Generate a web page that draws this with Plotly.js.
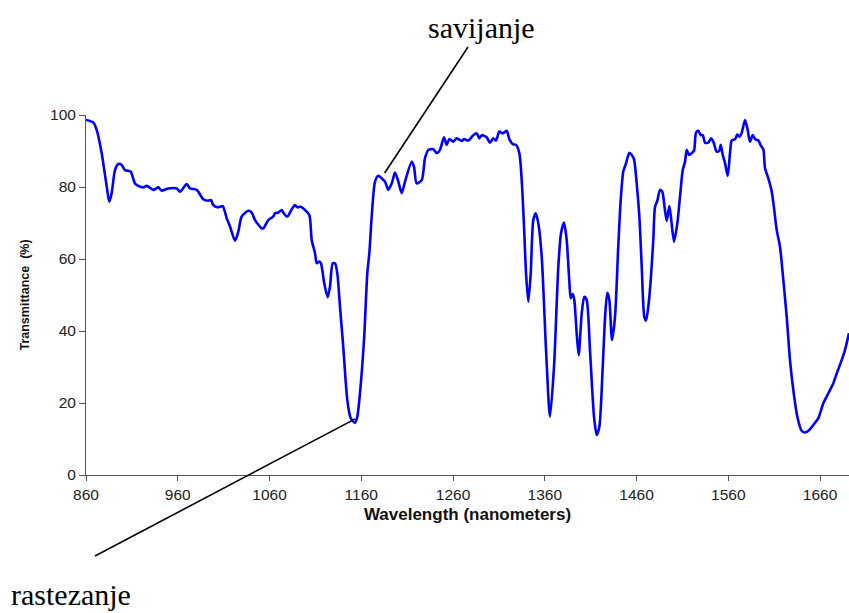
<!DOCTYPE html>
<html>
<head>
<meta charset="utf-8">
<script src="https://cdn.plot.ly/plotly-3.0.1.min.js"></script>
<style>html,body{margin:0;padding:0;background:#fff;}#chart{width:849px;height:613px;}</style>
</head>
<body>
<div id="chart"></div>
<script>
// Wavelength (nm) and transmittance (%)
const wavelength = [
  860, 868.0, 871.7, 877.1, 882.6, 885.4, 888.0, 891.6, 895.2, 898.9, 902.5, 906.1, 908.7, 913.4, 917.0,
  922.5, 926.2, 933.4, 938.8, 942.5, 949.7, 958.9, 962.5, 969.8, 973.4, 980.7, 987.8, 993.3, 996.2, 998.7,
  1003.1, 1006.0, 1009.0, 1013.4, 1017.0, 1022.4, 1026.0, 1029.7, 1036.9, 1040.6, 1044.2, 1051.5, 1053.2,
  1058.7, 1064.1, 1066.0, 1069.6, 1073.3, 1075.0, 1079.4, 1084.2, 1087.8, 1090.3, 1094.0, 1098.7, 1103.4,
  1106.0, 1109.6, 1111.5, 1114.3, 1116.1, 1119.7, 1123.4, 1125.9, 1128.9, 1131.4, 1133.9, 1136.8, 1140.4,
  1144.8, 1148.5, 1153.2, 1155.7, 1158.6, 1163.0, 1166.6, 1168.8, 1171.4, 1175.0, 1178.6, 1182.3, 1185.9,
  1189.5, 1193.2, 1196.8, 1200.4, 1204.1, 1207.7, 1215.0, 1217.5, 1220.4, 1225.9, 1229.5, 1233.1, 1238.5,
  1242.2, 1245.8, 1250.2, 1253.1, 1256.0, 1260.3, 1264.0, 1269.5, 1272.0, 1276.7, 1282.1, 1285.8, 1288.7,
  1291.3, 1296.7, 1300.3, 1303.9, 1306.9, 1310.5, 1314.2, 1318.5, 1321.4, 1325.1, 1328.7, 1332.3, 1334.9,
  1337.4, 1339.6, 1342.1, 1344.7, 1347.5, 1350.1, 1353.0, 1356.7, 1361.4, 1365.7, 1370.1, 1374.8, 1377.7,
  1381.0, 1383.9, 1386.8, 1388.3, 1390.5, 1392.2, 1394.8, 1397.0, 1400.3, 1403.1, 1405.7, 1409.3, 1413.7,
  1416.6, 1419.5, 1423.2, 1426.0, 1428.2, 1430.4, 1433.3, 1436.6, 1440.2, 1442.8, 1445.6, 1448.6, 1452.2,
  1454.8, 1457.3, 1460.2, 1463.1, 1465.7, 1468.5, 1470.4, 1472.9, 1475.5, 1478.3, 1480.2, 1482.7, 1485.6,
  1488.1, 1490.3, 1492.9, 1495.8, 1497.9, 1500.9, 1504.5, 1507.4, 1510.4, 1512.9, 1514.7, 1517.2, 1520.2,
  1522.7, 1524.9, 1527.4, 1530.0, 1532.2, 1534.7, 1538.3, 1541.2, 1543.7, 1547.4, 1550.3, 1551.8, 1554.0,
  1556.5, 1559.4, 1561.9, 1563.8, 1567.4, 1569.9, 1572.1, 1574.7, 1578.3, 1581.2, 1583.7, 1586.7, 1589.2,
  1592.8, 1595.7, 1598.2, 1600.1, 1603.7, 1607.4, 1609.9, 1612.8, 1616.4, 1620.0, 1623.7, 1627.3, 1630.9,
  1635.3, 1640.0, 1643.6, 1648.3, 1652.7, 1658.2, 1663.6, 1669.1, 1674.5, 1678.9, 1683.6, 1687.2, 1691.6
];
const transmittance = [
  98.6, 97.9, 95.8, 89.4, 80.1, 75.9, 78.3, 84.7, 86.4, 86.1, 84.7, 84.5, 84.3, 81.0, 80.3,
  79.9, 80.3, 79.2, 79.9, 79.0, 79.6, 79.6, 78.7, 80.8, 79.6, 79.2, 76.6, 76.2, 76.4, 75.0,
  74.4, 74.5, 74.7, 71.3, 69.0, 65.1, 67.6, 71.8, 73.4, 72.9, 70.8, 68.5, 68.5,
  70.8, 71.8, 72.7, 72.9, 73.6, 72.9, 71.8, 73.8, 75.0, 74.4, 74.5, 73.6, 72.2,
  65.3, 61.6, 58.8, 59.3, 58.8, 53.2, 49.4, 52.3, 58.8, 58.8, 56.0, 46.8, 35.6,
  20.8, 15.8, 14.5, 16.2, 22.7, 37.5, 56.0, 61.6, 71.8, 81.5, 83.1, 82.4, 81.5,
  79.2, 81.0, 84.0, 81.5, 78.3, 81.5, 87.0, 85.6, 81.0, 81.9, 88.0, 90.3, 90.5,
  89.4, 90.3, 93.8, 91.7, 93.3, 92.6, 93.5, 92.8, 93.3, 92.9, 94.4, 94.9, 93.5,
  94.4, 93.8, 92.3, 93.5, 92.9, 95.4, 94.9, 95.6, 93.3, 91.9, 91.7, 89.4, 81.9,
  69.0, 56.0, 48.1, 56.0, 70.8, 72.7, 69.9, 60.6, 34.7, 16.2, 30.1, 57.9, 67.1,
  70.1, 65.3, 53.7, 49.1, 50.3, 48.6, 39.4, 33.3, 44.9, 49.5, 48.6, 34.7, 16.2,
  11.1, 13.4, 30.1, 44.9, 50.6, 48.6, 37.5, 44.0, 64.0, 76.4, 84.3, 86.6, 89.5,
  88.9, 87.7, 81.0, 71.8, 57.9, 44.0, 42.9, 46.8, 54.2, 65.3, 74.5, 76.2, 79.2,
  78.7, 75.0, 70.6, 74.7, 70.8, 64.8, 69.9, 77.3, 84.7, 87.0, 90.3, 88.9, 89.4,
  90.1, 95.1, 95.6, 94.4, 94.4, 92.3, 92.3, 93.5, 92.6, 89.8, 90.1, 91.7, 88.9,
  86.6, 83.1, 89.4, 92.9, 93.3, 94.6, 94.0, 95.1, 98.6, 95.8, 92.6, 94.4, 93.3,
  92.9, 91.4, 90.5, 85.2, 82.4, 78.7, 74.1, 68.1, 63.4, 54.2, 44.0, 31.9, 23.6,
  16.2, 12.3, 11.8, 12.5, 13.9, 15.8, 19.9, 22.7, 25.5, 28.7, 31.9, 34.7, 39.4
];
const xTickStart = 860;
const xTickStep = 100;
const yTickStep = 20;
const xTitle = 'Wavelength (nanometers)';
const yTitle = 'Transmittance  (%)';
const labelBend = 'savijanje';
const labelStretch = 'rastezanje';

const xRange = [860, 1691.6];
const yRange = [0, 100];
// helpers to place annotation lines in paper space
function px(x) { return (x - xRange[0]) / (xRange[1] - xRange[0]); }
function py(y) { return (y - yRange[0]) / (yRange[1] - yRange[0]); }

const trace = {
  x: wavelength,
  y: transmittance,
  type: 'scatter',
  mode: 'lines',
  line: {color: '#0000FF', width: 2.6, shape: 'spline', smoothing: 0.7},
  hoverinfo: 'x+y'
};

const sans = 'Liberation Sans, Arial, sans-serif';
const serif = 'Liberation Serif, Times New Roman, serif';

const layout = {
  width: 849, height: 613,
  margin: {l: 86, r: 0, t: 115, b: 138, pad: 0},
  paper_bgcolor: '#ffffff', plot_bgcolor: '#ffffff',
  showlegend: false,
  xaxis: {
    range: xRange, tickmode: 'linear', tick0: xTickStart, dtick: xTickStep,
    ticks: 'outside', ticklen: 5, tickwidth: 1, tickcolor: '#555',
    showline: true, linecolor: '#555', linewidth: 1,
    showgrid: false, zeroline: false,
    tickfont: {family: sans, size: 15.5, color: '#222'},
    title: {text: xTitle, font: {family: sans, size: 17, color: '#111', weight: 'bold'}, standoff: 6}
  },
  yaxis: {
    range: yRange, tickmode: 'linear', tick0: 0, dtick: yTickStep,
    ticks: 'outside', ticklen: 6, tickwidth: 1, tickcolor: '#555',
    showline: true, linecolor: '#555', linewidth: 1,
    showgrid: false, zeroline: false,
    tickfont: {family: sans, size: 15.5, color: '#222'},
    title: {text: yTitle, font: {family: sans, size: 12.5, color: '#111', weight: 'bold'}, standoff: 17}
  },
  shapes: [
    {type: 'line', xref: 'paper', yref: 'paper',
     x0: 0.5007, y0: 1.1889, x1: px(1185.5), y1: py(83.9),
     line: {color: '#000', width: 1.6}},
    {type: 'line', xref: 'paper', yref: 'paper',
     x0: 0.0118, y0: -0.225, x1: px(1153.5), y1: py(15.6),
     line: {color: '#000', width: 1.6}}
  ],
  annotations: [
    {text: labelBend, xref: 'paper', yref: 'paper', x: 0.5177, y: 1.2444,
     xanchor: 'center', yanchor: 'middle', showarrow: false,
     font: {family: serif, size: 30, color: '#000'}},
    {text: labelStretch, xref: 'paper', yref: 'paper', x: -0.0197, y: -0.333,
     xanchor: 'center', yanchor: 'middle', showarrow: false,
     font: {family: serif, size: 30, color: '#000'}}
  ]
};

Plotly.newPlot('chart', [trace], layout, {displayModeBar: false, staticPlot: true});
</script>
</body>
</html>
